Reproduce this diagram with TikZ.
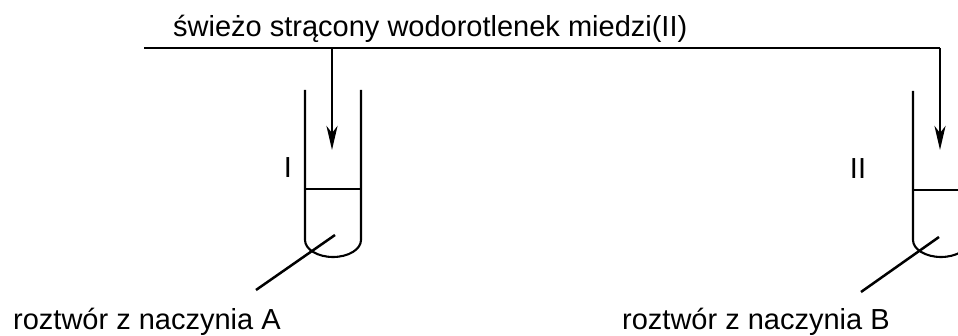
\documentclass[tikz,border=0pt]{standalone}
\usepackage{fontspec}
\setmainfont{Liberation Sans}
\usetikzlibrary{arrows.meta}
\tikzset{
  lbl/.style={inner sep=0pt, font=\fontsize{29}{34}\selectfont},
  feed/.style={line width=2.8pt, -{Stealth[length=24pt,width=11pt,inset=7pt]}},
  mainline/.style={line width=2.8pt},
  glass/.style={line width=2.1pt, line join=round},
  liquid/.style={line width=1.3pt},
  pointer/.style={line width=2.5pt}
}
\begin{document}
\begin{tikzpicture}[x=1pt,y=-1pt]
\useasboundingbox (0,0) rectangle (958,336);
\clip (0,0) rectangle (958,336);
% labels
\node[lbl, anchor=base west] (title) at (173,37) {świeżo strącony wodorotlenek miedzi(II)};
\node[lbl, anchor=base west] (solA) at (13,330) {roztwór z naczynia A};
\node[lbl, anchor=base west] (solB) at (622,330) {roztwór z naczynia B};
\node[lbl, anchor=base] (labI) at (288,178) {I};
\node[lbl, anchor=base] (labII) at (858,179) {II};
% feed line
\coordinate (start) at (144,48);
\coordinate (branchA) at (332,48);
\coordinate (corner) at (940,48);
\coordinate (tipA) at (332,150);
\coordinate (tipB) at (940,150);
\draw[mainline] (start) -- (corner);
\draw[feed] (branchA) -- (tipA);
\draw[feed] (corner) -- (tipB);
% test tube I
\draw[glass] (305,90) -- (305,240) arc[start angle=180, end angle=360, x radius=28pt, y radius=17pt] -- (361,90);
\draw[liquid] (305,189) -- (361,189);
\coordinate (inA) at (335,235);
\coordinate (outA) at (256,290);
\draw[pointer] (inA) -- (outA);
% test tube II
\draw[glass] (913,91) -- (913,240) arc[start angle=180, end angle=360, x radius=28pt, y radius=17pt] -- (969,91);
\draw[liquid] (913,190) -- (969,190);
\coordinate (inB) at (939,237);
\coordinate (outB) at (861,292);
\draw[pointer] (inB) -- (outB);
\end{tikzpicture}
\end{document}
